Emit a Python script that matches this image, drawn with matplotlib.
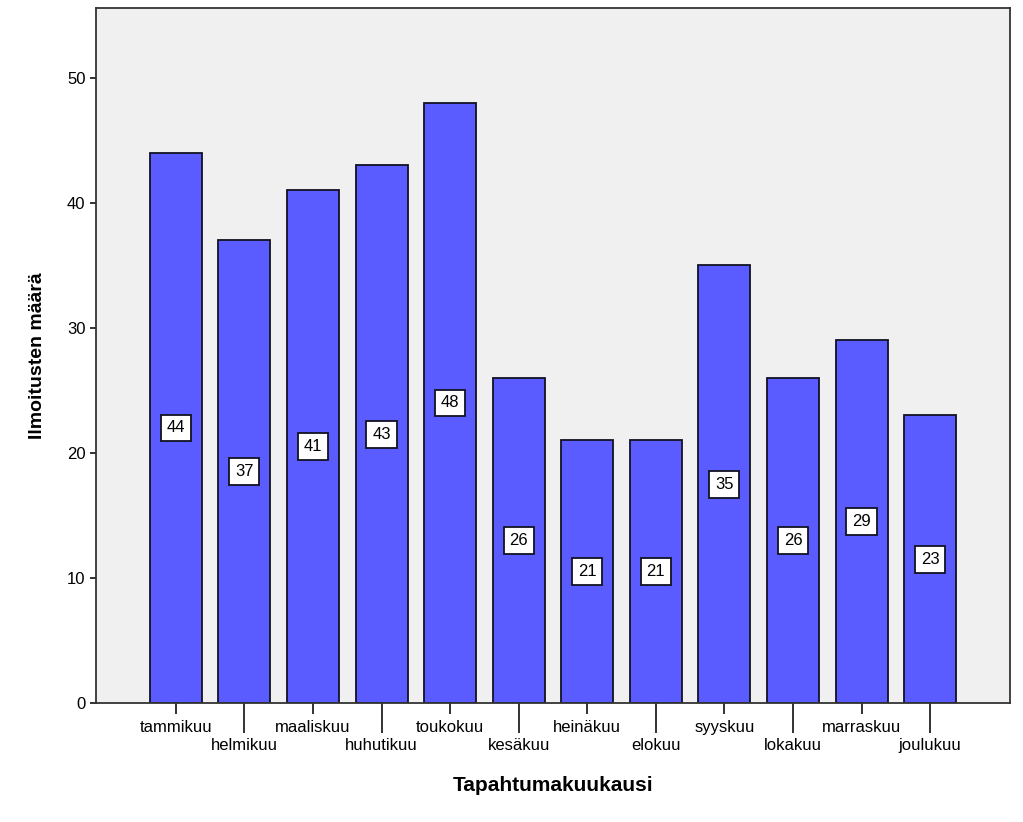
import numpy as np
import matplotlib.pyplot as plt

plt.rcParams['font.family'] = ['Liberation Sans', 'DejaVu Sans']

# kuukaudet ja ilmoitusten määrät
kuukaudet = ['tammikuu', 'helmikuu', 'maaliskuu', 'huhutikuu', 'toukokuu', 'kesäkuu',
             'heinäkuu', 'elokuu', 'syyskuu', 'lokakuu', 'marraskuu', 'joulukuu']
maarat = [44, 37, 41, 43, 48, 26, 21, 21, 35, 26, 29, 23]

fig = plt.figure(figsize=(10.23, 8.22), dpi=100)
ax = fig.add_axes([0.0938, 0.1448, 0.8935, 0.8455])
ax.set_facecolor('#f0f0f0')

x = np.arange(len(kuukaudet))
ax.bar(x, maarat, width=0.757, color='#5a5cff', edgecolor='#111122', linewidth=1.3, zorder=2)

# arvot palkkien keskelle
for xi, v in zip(x, maarat):
    ax.text(xi, v / 2, str(v), ha='center', va='center', fontsize=12, zorder=3,
            bbox=dict(boxstyle='square,pad=0.35', fc='white', ec='#111122', lw=1.3))

ax.set_xlim(-1.165, 12.165)
ax.set_ylim(0, 55.6)
ax.set_yticks([0, 10, 20, 30, 40, 50])

# vuorottelevat akselin nimet
ax.set_xticks(x[::2], [kuukaudet[i] for i in x[::2]])
ax.set_xticks(x[1::2], [kuukaudet[i] for i in x[1::2]], minor=True)
ax.tick_params(axis='x', which='major', length=8, width=1.3, pad=4, labelsize=12, color='#222222')
ax.tick_params(axis='x', which='minor', length=21.5, width=1.3, pad=4, labelsize=12, color='#222222')
ax.tick_params(axis='y', length=4, width=1.3, labelsize=12, color='#222222')

for s in ax.spines.values():
    s.set_color('#333333')
    s.set_linewidth(1.3)

ax.set_xlabel('Tapahtumakuukausi', fontsize=15, fontweight='bold', labelpad=16)
ax.set_ylabel('Ilmoitusten määrä', fontsize=14, fontweight='bold', labelpad=15)

fig.savefig('out.png', dpi=100)
